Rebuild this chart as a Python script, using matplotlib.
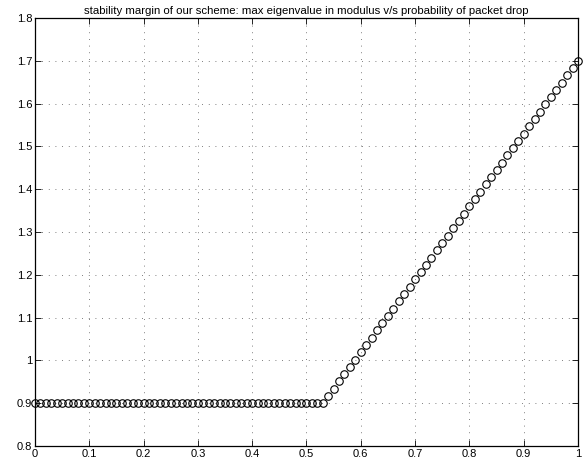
import numpy as np
import matplotlib
matplotlib.use("Agg")
import matplotlib.pyplot as plt

plt.rcParams['font.family'] = ['Liberation Sans', 'DejaVu Sans']

# probability of packet drop, 0 to 1 in steps of 0.01
p_drop = np.linspace(0, 1, 101)

# max |eigenvalue|: flat until p = 0.53, then rising
flat_part = [0.90] * 54
rising_part = [
    0.917, 0.934, 0.951, 0.968, 0.985, 1.002, 1.019, 1.036, 1.053, 1.070,
    1.087, 1.104, 1.121, 1.138, 1.155, 1.172, 1.189, 1.206, 1.223, 1.240,
    1.257, 1.274, 1.291, 1.309, 1.326, 1.343, 1.360, 1.377, 1.394, 1.411,
    1.428, 1.445, 1.462, 1.479, 1.496, 1.513, 1.530, 1.547, 1.564, 1.581,
    1.598, 1.615, 1.632, 1.649, 1.666, 1.683, 1.700,
]
max_eig = flat_part + rising_part

xticks = [0, 0.1, 0.2, 0.3, 0.4, 0.5, 0.6, 0.7, 0.8, 0.9, 1]
xlabels = ['0', '0.1', '0.2', '0.3', '0.4', '0.5', '0.6', '0.7', '0.8', '0.9', '1']
yticks = [0.8, 0.9, 1.0, 1.1, 1.2, 1.3, 1.4, 1.5, 1.6, 1.7, 1.8]
ylabels = ['0.8', '0.9', '1', '1.1', '1.2', '1.3', '1.4', '1.5', '1.6', '1.7', '1.8']

fig = plt.figure(figsize=(5.86, 4.67), dpi=100)
ax = fig.add_axes([0.0597, 0.045, 0.9266, 0.9165])

ax.plot(p_drop, max_eig, 'o', markerfacecolor='none', markeredgecolor='black',
        markersize=5.4, markeredgewidth=0.8, clip_on=False, zorder=3)

ax.set_xlim(0, 1)
ax.set_ylim(0.8, 1.8)
ax.set_xticks(xticks)
ax.set_xticklabels(xlabels)
ax.set_yticks(yticks)
ax.set_yticklabels(ylabels)
ax.tick_params(direction='in', top=True, right=True, length=4, width=0.6,
               labelsize=8, pad=2)
ax.grid(True, linestyle=(0, (1, 7)), color='#555555', linewidth=0.6)
for s in ax.spines.values():
    s.set_linewidth(0.9)

ax.set_title('stability margin of our scheme: max eigenvalue in modulus v/s probability of packet drop',
             fontsize=8.2, pad=3)

fig.savefig('out.png', dpi=100)
